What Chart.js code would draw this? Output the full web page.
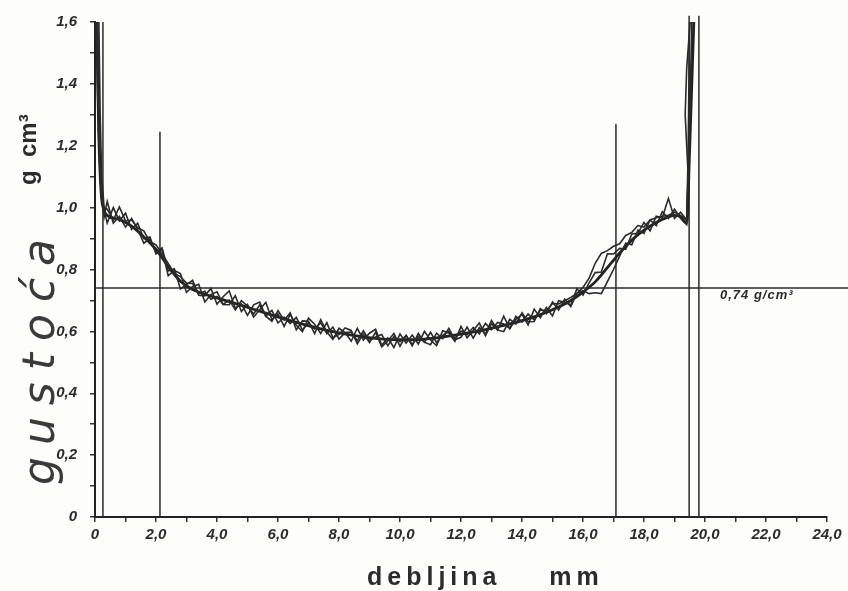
<!DOCTYPE html>
<html><head><meta charset="utf-8">
<script src="https://cdn.jsdelivr.net/npm/chart.js@4"></script>
<style>
html,body{margin:0;padding:0;background:#fdfdfa;}
#wrap{position:relative;width:848px;height:591px;overflow:hidden;}
#c{position:absolute;left:0;top:0;}
.t{position:absolute;white-space:pre;color:#2b2b2b;}
#yt1{left:17px;top:485px;transform:rotate(-90deg);transform-origin:0 0;font:italic 200 44px/44px 'DejaVu Sans';letter-spacing:12px;color:#3a3a3a;}
#yt2{left:16px;top:185px;transform:rotate(-90deg);transform-origin:0 0;font:bold 24px/24px 'Liberation Sans';}
#xt{left:367px;top:564px;font:bold 25px/25px 'Liberation Sans';letter-spacing:5px;}
#ann{left:720px;top:288px;font:italic bold 13px/13px 'Liberation Sans';letter-spacing:1px;}
</style></head>
<body><div id="wrap"><canvas id="c" width="848" height="591"></canvas>
<div class="t" id="yt1">gustoća</div>
<div class="t" id="yt2">g  cm³</div>
<div class="t" id="xt">debljina    mm</div>
<div class="t" id="ann">0,74 g/cm³</div>
</div>
<script>
// ---- data (thickness in mm, density in g/cm3) ----
const yTickLabels = ['0','','0,2','','0,4','','0,6','','0,8','','1,0','','1,2','','1,4','','1,6'];
const xTickLabels = ['0','','2,0','','4,0','','6,0','','8,0','','10,0','','12,0','','14,0','','16,0','','18,0','','20,0','','22,0','','24,0'];

const xs = [
0.4,0.6,0.8,1.0,1.2,1.4,1.6,1.8,2.0,2.2,
2.4,2.6,2.8,3.0,3.2,3.4,3.6,3.8,4.0,4.2,
4.4,4.6,4.8,5.0,5.2,5.4,5.6,5.8,6.0,6.2,
6.4,6.6,6.8,7.0,7.2,7.4,7.6,7.8,8.0,8.2,
8.4,8.6,8.8,9.0,9.2,9.4,9.6,9.8,10.0,10.2,
10.4,10.6,10.8,11.0,11.2,11.4,11.6,11.8,12.0,12.2,
12.4,12.6,12.8,13.0,13.2,13.4,13.6,13.8,14.0,14.2,
14.4,14.6,14.8,15.0,15.2,15.4,15.6,15.8,16.0,16.2,
16.4,16.6,16.8,17.0,17.2,17.4,17.6,17.8,18.0,18.2,
18.4,18.6,18.8,19.0,19.2,19.4];

const profileA = [
1.020,0.950,0.972,0.937,0.965,0.930,0.885,0.900,0.855,0.870,
0.795,0.802,0.737,0.751,0.765,0.717,0.715,0.739,0.688,0.712,
0.731,0.675,0.689,0.652,0.686,0.695,0.649,0.633,0.667,0.636,
0.660,0.605,0.634,0.633,0.593,0.638,0.598,0.574,0.610,0.596,
0.568,0.610,0.572,0.594,0.607,0.555,0.579,0.548,0.592,0.562,
0.588,0.559,0.600,0.572,0.554,0.602,0.595,0.568,0.616,0.579,
0.603,0.627,0.586,0.625,0.604,0.649,0.609,0.639,0.655,0.621,
0.672,0.644,0.677,0.650,0.699,0.694,0.685,0.738,0.717,0.757,
0.790,0.792,0.851,0.850,0.868,0.865,0.915,0.917,0.952,0.925,
0.972,0.967,1.030,0.965,0.985,0.960];
const profileB = [
0.950,1.000,0.957,0.982,0.930,0.950,0.900,0.905,0.850,0.865,
0.780,0.797,0.787,0.726,0.745,0.752,0.695,0.719,0.728,0.687,
0.686,0.715,0.664,0.687,0.646,0.670,0.694,0.638,0.657,0.616,
0.655,0.620,0.599,0.643,0.623,0.593,0.628,0.579,0.590,0.611,
0.603,0.560,0.592,0.564,0.597,0.550,0.569,0.593,0.552,0.587,
0.553,0.594,0.565,0.557,0.594,0.577,0.610,0.573,0.581,0.614,
0.578,0.612,0.591,0.635,0.604,0.599,0.639,0.624,0.660,0.631,
0.632,0.674,0.657,0.695,0.669,0.704,0.680,0.723,0.732,0.722,
0.725,0.722,0.761,0.800,0.843,0.885,0.880,0.927,0.917,0.960,
0.942,0.987,0.965,0.995,0.965,0.945];
const profileC = [
0.995,0.960,1.002,0.957,0.960,0.935,0.925,0.890,0.880,0.850,
0.820,0.787,0.777,0.756,0.755,0.722,0.730,0.704,0.713,0.687,
0.701,0.670,0.699,0.682,0.656,0.685,0.649,0.668,0.627,0.646,
0.625,0.645,0.604,0.628,0.608,0.628,0.593,0.614,0.575,0.596,
0.598,0.570,0.602,0.569,0.582,0.590,0.554,0.583,0.567,0.587,
0.558,0.584,0.565,0.597,0.564,0.587,0.600,0.578,0.601,0.589,
0.613,0.592,0.626,0.605,0.629,0.624,0.609,0.649,0.630,0.656,
0.637,0.669,0.667,0.690,0.689,0.699,0.710,0.723,0.742,0.772,
0.820,0.852,0.861,0.875,0.883,0.910,0.920,0.942,0.937,0.960,
0.967,0.972,0.975,0.985,0.975,0.960];

// surface peaks at both faces
const edgeStartXA = [0.08,0.15,0.22,0.3],  edgeStartYA = [1.65,1.2,1.03,0.97];
const edgeEndXA   = [19.5,19.58],          edgeEndYA   = [1.3,1.65];
const edgeStartXB = [0.03,0.1,0.18,0.28],  edgeStartYB = [1.65,1.3,1.08,1.0];
const edgeEndXB   = [19.45,19.5],          edgeEndYB   = [1.2,1.65];
const edgeStartXC = [0.12,0.17,0.22,0.3],  edgeStartYC = [1.65,1.3,1.1,1.0];
const edgeEndXC   = [19.45,19.35,19.4,19.55], edgeEndYC = [1.1,1.3,1.45,1.65];

// smoothed mean profile
const meanX = [0.05,0.12,0.2,0.3,0.4,0.8,1.2,1.6,2.0,2.4,2.8,3.2,3.6,4.0,4.8,5.6,6.4,7.2,8.0,8.8,9.6,10.4,11.2,12.0,12.8,13.6,14.4,15.2,15.6,16.0,16.4,16.8,17.2,17.6,18.0,18.4,18.8,19.0,19.2,19.4,19.5,19.6,19.65];
const meanY = [1.65,1.25,1.05,0.99,0.975,0.962,0.94,0.905,0.865,0.81,0.762,0.735,0.72,0.708,0.684,0.659,0.635,0.613,0.595,0.582,0.574,0.573,0.579,0.591,0.606,0.624,0.647,0.679,0.70,0.727,0.76,0.806,0.853,0.895,0.927,0.952,0.97,0.975,0.97,0.95,1.2,1.5,1.65];

// reference lines
const avgDensity = 0.74;
const avgLineX = [0, 24.7];
const zoneLineX   = [0.26, 2.13, 17.08, 19.48, 19.8];
const zoneLineTop = [1.6, 1.245, 1.27, 1.62, 1.62];

// ---- build ----
const pts = (x, y) => x.map((v, i) => ({x: v, y: y[i]}));
const ink = '#2a2a2a';
const noisy = (sx, sy, ex, ey, py) => ({
  data: [...pts(sx, sy), ...pts(xs, py), ...pts(ex, ey)],
  showLine: true, borderColor: ink, borderWidth: 1.6, pointRadius: 0, tension: 0
});
const datasets = [
  noisy(edgeStartXA, edgeStartYA, edgeEndXA, edgeEndYA, profileA),
  noisy(edgeStartXB, edgeStartYB, edgeEndXB, edgeEndYB, profileB),
  noisy(edgeStartXC, edgeStartYC, edgeEndXC, edgeEndYC, profileC),
  {data: pts(meanX, meanY), showLine: true, borderColor: '#222', borderWidth: 2.8, pointRadius: 0, cubicInterpolationMode: 'monotone'},
  {data: pts(avgLineX, [avgDensity, avgDensity]), showLine: true, borderColor: ink, borderWidth: 1.5, pointRadius: 0, clip: false}
];
zoneLineX.forEach((x, i) => datasets.push({
  data: [{x: x, y: 0}, {x: x, y: zoneLineTop[i]}], showLine: true, borderColor: ink, borderWidth: 1.5, pointRadius: 0, clip: false
}));

const tickFont = {family: "'Liberation Sans', Arial, sans-serif", size: 15, style: 'italic', weight: 'bold'};
new Chart(document.getElementById('c'), {
  type: 'scatter',
  data: {datasets},
  options: {
    responsive: false, animation: false,
    layout: {padding: {left: 0, top: 19, right: 21, bottom: 0}},
    plugins: {legend: {display: false}, tooltip: {enabled: false}},
    scales: {
      x: {
        type: 'linear', min: 0, max: 24,
        afterFit: s => { s.height = 74; },
        border: {display: true, color: '#222', width: 2},
        grid: {drawOnChartArea: false, drawTicks: true, tickLength: 5, color: '#333', lineWidth: 1.5},
        ticks: {stepSize: 1, autoSkip: false, maxRotation: 0, padding: 4, color: '#2b2b2b', font: tickFont,
                callback: v => xTickLabels[Math.round(v)] ?? ''}
      },
      y: {
        type: 'linear', min: 0, max: 1.6,
        afterFit: s => { s.width = 95; },
        border: {display: true, color: '#222', width: 2},
        grid: {drawOnChartArea: false, drawTicks: true, tickLength: 5, color: '#333', lineWidth: 1.5},
        ticks: {stepSize: 0.1, autoSkip: false, padding: 13, color: '#2b2b2b', font: tickFont,
                callback: v => yTickLabels[Math.round(v * 10)] ?? ''}
      }
    }
  }
});
</script>
</body></html>
